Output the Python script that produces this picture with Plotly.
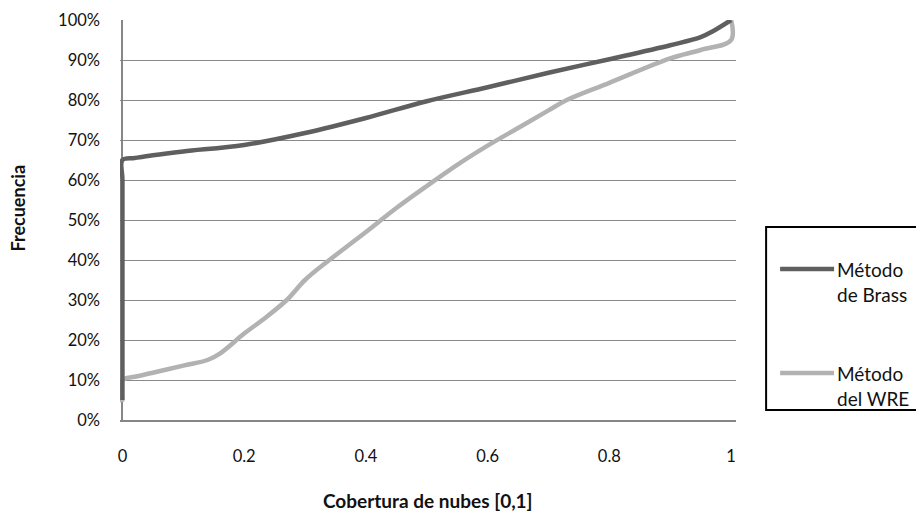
import plotly.graph_objects as go

# Data
brass_x = [0, 0, 0, 0, 0.02, 0.05, 0.1, 0.2, 0.3, 0.4, 0.5, 0.6, 0.7, 0.8, 0.9, 0.95, 0.97, 1.0]
brass_y = [0.05, 0.3, 0.6, 0.65, 0.655, 0.662, 0.6715, 0.6875, 0.7175, 0.755, 0.797, 0.832, 0.868,
           0.902, 0.937, 0.957, 0.972, 1.0]

wre_x = [0, 0, 0.02, 0.05, 0.1, 0.14, 0.16, 0.2, 0.23, 0.27, 0.3, 0.34, 0.4, 0.45, 0.5, 0.55, 0.6,
         0.65, 0.7, 0.73, 0.8, 0.9, 0.95, 1.0, 1.0]
wre_y = [0.045, 0.10, 0.108, 0.118, 0.136, 0.15, 0.166, 0.216, 0.25, 0.30, 0.35, 0.40, 0.47, 0.53,
         0.585, 0.638, 0.686, 0.730, 0.774, 0.80, 0.843, 0.904, 0.925, 0.95, 1.0]

x_ticks = [0, 0.2, 0.4, 0.6, 0.8, 1]
x_tick_labels = ["0", "0.2", "0.4", "0.6", "0.8", "1"]
y_ticks = [0, 0.1, 0.2, 0.3, 0.4, 0.5, 0.6, 0.7, 0.8, 0.9, 1.0]

series_names = ["Método<br>de Brass", "Método<br>del WRE"]
brass_color = "#5f5f5f"
wre_color = "#b2b2b2"

FONT = "Lato, 'Open Sans', Arial, sans-serif"

W, H = 916, 516
X0_PX, X1_PX = 122, 731      # pixel position of x=0 and x=1
Y0_PX, Y1_PX = 420, 20       # pixel position of y=0 and y=1
XR = [-0.004, 1.008]
scale = (X1_PX - X0_PX)
L = X0_PX + XR[0] * scale
Rm = W - (X0_PX + XR[1] * scale)
T = Y1_PX
B = H - Y0_PX


def paper_x(xp):
    return (xp - L) / (W - L - Rm)


def paper_y(yp):
    return (Y0_PX - yp) / (Y0_PX - Y1_PX)


fig = go.Figure()
fig.add_trace(go.Scatter(x=wre_x, y=wre_y, mode="lines",
                         line=dict(color=wre_color, width=4.5, shape="spline", smoothing=1),
                         showlegend=False, name="Método del WRE"))
fig.add_trace(go.Scatter(x=brass_x, y=brass_y, mode="lines",
                         line=dict(color=brass_color, width=4.5, shape="spline", smoothing=1),
                         showlegend=False, name="Método de Brass"))

fig.update_layout(
    width=W, height=H,
    margin=dict(l=L, r=Rm, t=T, b=B, autoexpand=False),
    paper_bgcolor="white", plot_bgcolor="white",
    font=dict(family=FONT, size=16.5, color="#111111"),
    showlegend=False,
)
fig.update_xaxes(range=XR, tickvals=x_ticks, ticktext=x_tick_labels,
                 showgrid=False, zeroline=True, zerolinecolor="#868686", zerolinewidth=2,
                 showline=True, linecolor="#868686", linewidth=2, ticks="",
                 ticklabelstandoff=20, automargin=False, layer="below traces")
fig.update_yaxes(range=[0, 1], tickvals=y_ticks, tickformat=".0%",
                 showgrid=True, gridcolor="#8a8a8a", gridwidth=1.4,
                 zeroline=False, showline=False, ticks="",
                 ticklabelstandoff=19, automargin=False, layer="below traces")

# Axis titles
fig.add_annotation(text="<b>Cobertura de nubes [0,1]</b>", xref="paper", yref="paper",
                   x=paper_x(428), y=paper_y(500), xanchor="center", yanchor="middle",
                   showarrow=False, font=dict(size=19, family=FONT))
fig.add_annotation(text="<b>Frecuencia</b>", xref="paper", yref="paper",
                   x=paper_x(18), y=paper_y(208), xanchor="center", yanchor="middle",
                   showarrow=False, textangle=-90, font=dict(size=18, family=FONT))

# Legend box
fig.add_shape(type="rect", xref="paper", yref="paper",
              x0=paper_x(766), x1=paper_x(935), y0=paper_y(410), y1=paper_y(227),
              line=dict(color="black", width=2), fillcolor="white", layer="above")
for name, color, yl in [(series_names[0], brass_color, 269), (series_names[1], wre_color, 373)]:
    fig.add_shape(type="line", xref="paper", yref="paper",
                  x0=paper_x(780), x1=paper_x(834), y0=paper_y(yl), y1=paper_y(yl),
                  line=dict(color=color, width=4.5), layer="above")
    fig.add_annotation(text=name, xref="paper", yref="paper", x=paper_x(835), y=paper_y(yl + 13),
                       xanchor="left", yanchor="middle", align="left", showarrow=False,
                       font=dict(size=19, family=FONT))

fig.write_html("out.html", config={"displayModeBar": False},
               post_script="document.body.style.margin='0';document.body.style.overflow='hidden';")
